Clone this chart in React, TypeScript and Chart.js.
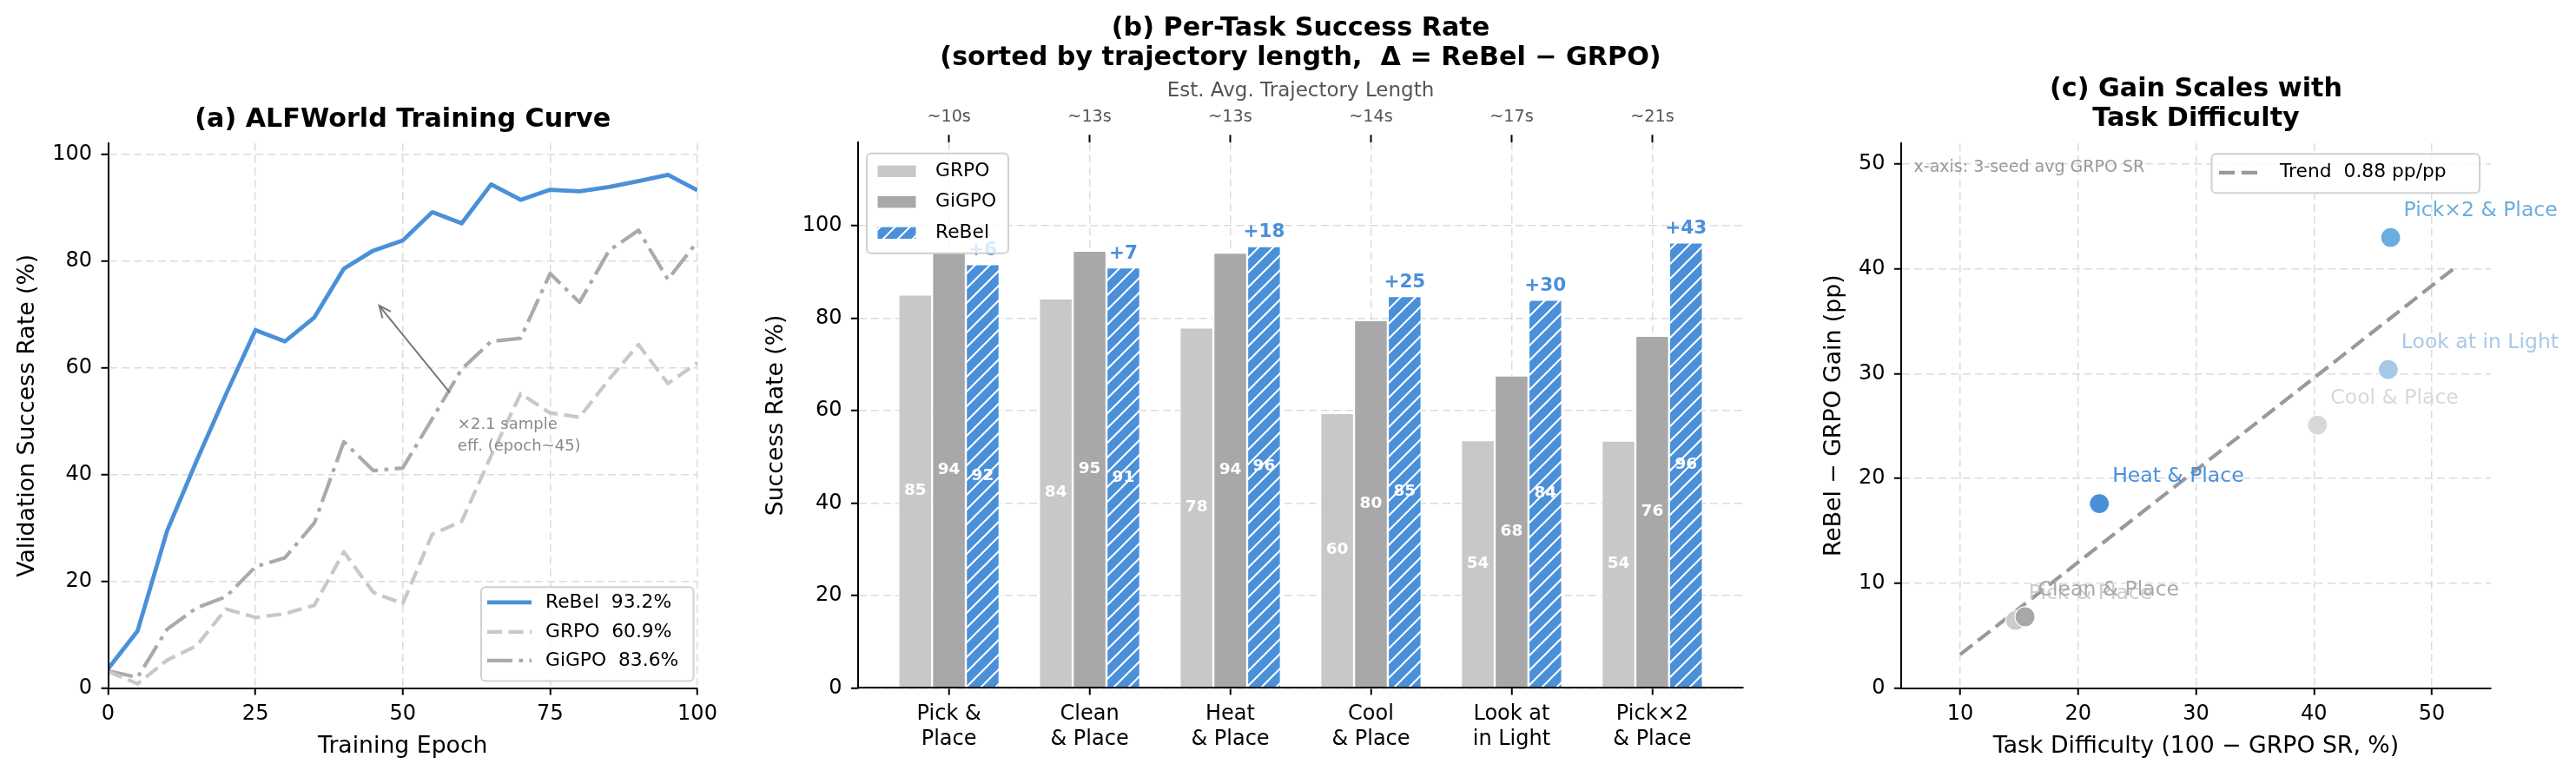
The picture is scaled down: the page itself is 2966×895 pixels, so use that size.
import React, { useEffect, useRef } from "react";
import { Chart, registerables } from "chart.js";

Chart.register(...registerables);

// ---------------- (a) training curve data ----------------
const epochs = [0, 5, 10, 15, 20, 25, 30, 35, 40, 45, 50, 55, 60, 65, 70, 75, 80, 85, 90, 95, 100];
const rebelCurve = [3.6, 10.7, 29.4, 42.5, 55.0, 67.0, 64.9, 69.4, 78.5, 81.9, 83.8, 89.1, 87.0, 94.3, 91.4, 93.3, 93.0, 93.8, 94.9, 96.1, 93.2];
const grpoCurve = [3.1, 0.8, 5.2, 7.9, 14.8, 13.2, 13.9, 15.5, 25.5, 17.9, 15.8, 28.8, 31.2, 43.5, 55.1, 51.5, 50.7, 57.8, 64.3, 57.0, 60.9];
const gigpoCurve = [3.2, 2.0, 11.0, 15.0, 17.1, 22.7, 24.4, 30.9, 46.1, 40.7, 41.2, 50.4, 59.7, 64.9, 65.5, 77.6, 72.2, 81.9, 85.7, 76.5, 83.6];
const curveXTicks = [0, 25, 50, 75, 100];
const curveYTicks = [0, 20, 40, 60, 80, 100];
const annotationText = ["×2.1 sample", "eff. (epoch~45)"];

// ---------------- (b) per-task data ----------------
const tasks = ["Pick &\nPlace", "Clean\n& Place", "Heat\n& Place", "Cool\n& Place", "Look at\nin Light", "Pick×2\n& Place"];
const trajLen = ["~10s", "~13s", "~13s", "~14s", "~17s", "~21s"];
const grpoSR = [85.1, 84.3, 78.0, 59.5, 53.6, 53.5];
const gigpoSR = [94.3, 94.6, 94.2, 79.6, 67.6, 76.2];
const rebelSR = [91.7, 91.0, 95.6, 84.8, 84.0, 96.4];
const barYTicks = [0, 20, 40, 60, 80, 100];

// ---------------- (c) gain vs difficulty data ----------------
const scatterTasks = ["Pick & Place", "Clean & Place", "Heat & Place", "Cool & Place", "Look at in Light", "Pick×2 & Place"];
const difficulty = [14.7, 15.5, 21.8, 40.3, 46.3, 46.5];
const gain = [6.45, 6.8, 17.6, 25.1, 30.4, 43.0];
const trendSlope = 0.88;
const trendIntercept = -5.6;
const trendRange = [10, 52];
const scatterXTicks = [10, 20, 30, 40, 50];
const scatterYTicks = [0, 10, 20, 30, 40, 50];

// ---------------- styles ----------------
const FONT = "'DejaVu Sans', 'Liberation Sans', sans-serif";
const BLUE = "#4a90d9";
const GRPO_C = "#c8c8c8";
const GIGPO_C = "#a8a8a8";
const POINT_COLORS = ["#cccccc", "#a8a8a8", "#4a90d9", "#d8d8d8", "#a8c8e8", "#6aaedd"];
const TICK = 24;
const LABEL = 26.7;
const TITLE = 30.2;
const LEG = 21.8;
const H = 895;

const GRID = { color: "#dcdcdc", lineWidth: 1.5, tickColor: "#000", tickLength: 8, tickWidth: 2, offset: false };
const BORDER = { color: "#000", width: 2, dash: [9, 5], z: 1 };

function zeroPad(s: any) {
  s.paddingLeft = 0;
  s.paddingRight = 0;
  s.paddingTop = 0;
  s.paddingBottom = 0;
}
function fixedTicks(values: number[]) {
  return (s: any) => {
    s.ticks = values.map((v) => ({ value: v }));
  };
}

function yScale(min: number, max: number, ticks: number[], width: number, title: string, titleOffset: number): any {
  return {
    type: "linear",
    position: "left",
    min,
    max,
    afterBuildTicks: fixedTicks(ticks),
    afterFit: (s: any) => {
      s.width = width;
      zeroPad(s);
    },
    ticks: { font: { family: FONT, size: TICK }, color: "#000", padding: 10.5, callback: (v: any) => String(v) },
    grid: GRID,
    border: BORDER,
    title: { display: true, text: title, color: "#000", font: { family: FONT, size: LABEL }, padding: { top: titleOffset, bottom: 0 } },
  };
}

function xScale(min: number, max: number, ticks: number[], height: number, title: string | null, cb?: (v: any) => any, lh?: string, pad = 8.1): any {
  return {
    type: "linear",
    position: "bottom",
    min,
    max,
    offset: false,
    afterBuildTicks: fixedTicks(ticks),
    afterFit: (s: any) => {
      s.height = height;
      zeroPad(s);
    },
    ticks: {
      font: { family: FONT, size: TICK, lineHeight: lh || 1.2 },
      color: "#000",
      padding: pad,
      autoSkip: false,
      maxRotation: 0,
      minRotation: 0,
      callback: cb || ((v: any) => String(v)),
    },
    grid: GRID,
    border: BORDER,
    title: title
      ? { display: true, text: title, color: "#000", font: { family: FONT, size: LABEL }, padding: { top: 0, bottom: 19 } }
      : { display: false },
  };
}

function titleOpts(text: string | string[], top: number, bottom: number): any {
  return {
    display: true,
    text,
    fullSize: false,
    color: "#000",
    font: { family: FONT, size: TITLE, weight: "bold", lineHeight: "34.5px" },
    padding: { top, bottom },
  };
}

function legendFrame(ctx: CanvasRenderingContext2D, x: number, y: number, w: number, h: number) {
  ctx.save();
  ctx.beginPath();
  (ctx as any).roundRect(x, y, w, h, 5);
  ctx.fillStyle = "rgba(255,255,255,0.8)";
  ctx.fill();
  ctx.strokeStyle = "rgba(204,204,204,0.9)";
  ctx.lineWidth = 2;
  ctx.stroke();
  ctx.restore();
}

function makeHatch(): CanvasPattern | string {
  const s = 17;
  const c = document.createElement("canvas");
  c.width = s;
  c.height = s;
  const g = c.getContext("2d");
  if (!g) return BLUE;
  g.fillStyle = BLUE;
  g.fillRect(0, 0, s, s);
  g.strokeStyle = "#ffffff";
  g.lineWidth = 2;
  g.beginPath();
  g.moveTo(-3, s + 3);
  g.lineTo(s + 3, -3);
  g.moveTo(-3, 3);
  g.lineTo(3, -3);
  g.moveTo(s - 3, s + 3);
  g.lineTo(s + 3, s - 3);
  g.stroke();
  return g.createPattern(c, "repeat") || BLUE;
}

// ---------------- (a) ----------------
function buildA(): any {
  const series = [
    { name: "ReBel", values: rebelCurve, color: BLUE, width: 4.8, dash: [] as number[] },
    { name: "GRPO", values: grpoCurve, color: GRPO_C, width: 4.2, dash: [17, 7.5] },
    { name: "GiGPO", values: gigpoCurve, color: "#aaaaaa", width: 4.2, dash: [29, 7.5, 4.6, 7.5] },
  ];
  const datasets = series.map((s) => ({
    label: `${s.name}  ${s.values[s.values.length - 1].toFixed(1)}%`,
    data: epochs.map((e, i) => ({ x: e, y: s.values[i] })),
    borderColor: s.color,
    backgroundColor: s.color,
    borderWidth: s.width,
    borderDash: s.dash,
    borderJoinStyle: "round",
    pointRadius: 0,
    tension: 0,
    fill: false,
  }));
  const overlay = {
    id: "overlayA",
    afterDraw(chart: any) {
      const { ctx, chartArea: ca, scales } = chart;
      const { x, y } = scales;
      const tx = x.getPixelForValue(46), ty = y.getPixelForValue(71.6);
      const sx = x.getPixelForValue(58), sy = y.getPixelForValue(55.3);
      ctx.save();
      ctx.strokeStyle = "#777777";
      ctx.lineWidth = 2;
      ctx.beginPath();
      ctx.moveTo(sx, sy);
      ctx.lineTo(tx, ty);
      ctx.stroke();
      const ang = Math.atan2(ty - sy, tx - sx);
      const L = 15, sp = 0.42;
      ctx.beginPath();
      ctx.moveTo(tx - L * Math.cos(ang - sp), ty - L * Math.sin(ang - sp));
      ctx.lineTo(tx, ty);
      ctx.lineTo(tx - L * Math.cos(ang + sp), ty - L * Math.sin(ang + sp));
      ctx.stroke();
      ctx.fillStyle = "#8a8a8a";
      ctx.font = `18px ${FONT}`;
      ctx.textAlign = "left";
      ctx.textBaseline = "middle";
      const ax = x.getPixelForValue(59.3), ay = y.getPixelForValue(49.2);
      annotationText.forEach((t, i) => ctx.fillText(t, ax, ay + i * 25));
      ctx.restore();
      // legend
      const w = 244.5, h = 108.2;
      const lx = ca.right - 4.5 - w, ly = ca.bottom - 8 - h;
      legendFrame(ctx, lx, ly, w, h);
      const rows = [17.6, 51.6, 84.6];
      chart.data.datasets.forEach((ds: any, i: number) => {
        const ry = ly + rows[i];
        ctx.save();
        ctx.strokeStyle = ds.borderColor;
        ctx.lineWidth = ds.borderWidth;
        ctx.setLineDash(ds.borderDash);
        ctx.beginPath();
        ctx.moveTo(lx + 7, ry);
        ctx.lineTo(lx + 58, ry);
        ctx.stroke();
        ctx.setLineDash([]);
        ctx.fillStyle = "#000";
        ctx.font = `${LEG}px ${FONT}`;
        ctx.textAlign = "left";
        ctx.textBaseline = "middle";
        ctx.fillText(ds.label, lx + 74, ry);
        ctx.restore();
      });
    },
  };
  return {
    type: "line",
    data: { datasets },
    options: {
      animation: false,
      responsive: false,
      devicePixelRatio: 1,
      events: [],
      layout: { padding: { left: 0, top: 0, right: 27, bottom: 0 } },
      plugins: {
        legend: { display: false },
        tooltip: { enabled: false },
        title: titleOpts("(a) ALFWorld Training Curve", 120.75, 9.75),
      },
      scales: {
        x: xScale(0, 100, curveXTicks, 102.5, "Training Epoch"),
        y: yScale(0, 102, curveYTicks, 124.5, "Validation Success Rate (%)", 16.5),
      },
    },
    plugins: [overlay],
  };
}

// ---------------- (b) ----------------
function buildB(): any {
  const hatch = makeHatch();
  const taskLines = tasks.map((t) => t.split("\n"));
  const idx = tasks.map((_, i) => i);
  const XMIN = -0.646, XMAX = 5.646;
  const bar = (label: string, vals: number[], bg: any) => ({
    label,
    data: vals.map((v, i) => ({ x: i, y: v })),
    backgroundColor: bg,
    borderColor: "#ffffff",
    borderWidth: 1.2,
    borderSkipped: "start",
    categoryPercentage: 0.72,
    barPercentage: 1.0,
  });
  const datasets = [bar("GRPO", grpoSR, GRPO_C), bar("GiGPO", gigpoSR, GIGPO_C), bar("ReBel", rebelSR, hatch)];
  const labelsPlugin = {
    id: "labelsB",
    afterDatasetsDraw(chart: any) {
      const { ctx } = chart;
      ctx.save();
      ctx.textAlign = "center";
      ctx.textBaseline = "middle";
      chart.data.datasets.forEach((ds: any, di: number) => {
        const meta = chart.getDatasetMeta(di);
        meta.data.forEach((el: any, j: number) => {
          const v = ds.data[j].y;
          ctx.fillStyle = "#ffffff";
          ctx.font = `bold 18.5px ${FONT}`;
          ctx.fillText(String(Math.round(v)), el.x, (el.y + el.base) / 2);
          if (di === 2) {
            ctx.fillStyle = BLUE;
            ctx.font = `bold 21.5px ${FONT}`;
            ctx.fillText(`+${Math.round(gain[j])}`, el.x, el.y - 16);
          }
        });
      });
      ctx.restore();
    },
    afterDraw(chart: any) {
      const { ctx, chartArea: ca } = chart;
      const lx = ca.left + 10, ly = ca.top + 12.4, w = 163, h = 115;
      legendFrame(ctx, lx, ly, w, h);
      const rows = [20.6, 56, 91.6];
      chart.data.datasets.forEach((ds: any, i: number) => {
        const ry = ly + rows[i];
        ctx.save();
        ctx.fillStyle = ds.backgroundColor;
        ctx.fillRect(lx + 12, ry - 7.2, 45, 14.4);
        ctx.strokeStyle = "#ffffff";
        ctx.lineWidth = 1;
        ctx.strokeRect(lx + 12, ry - 7.2, 45, 14.4);
        ctx.fillStyle = "#000";
        ctx.font = `${LEG}px ${FONT}`;
        ctx.textAlign = "left";
        ctx.textBaseline = "middle";
        ctx.fillText(ds.label, lx + 79, ry);
        ctx.restore();
      });
    },
  };
  return {
    type: "bar",
    data: { datasets },
    options: {
      animation: false,
      responsive: false,
      devicePixelRatio: 1,
      events: [],
      layout: { padding: { left: 0, top: 0, right: 43, bottom: 0 } },
      plugins: {
        legend: { display: false },
        tooltip: { enabled: false },
        title: titleOpts(["(b) Per-Task Success Rate", "(sorted by trajectory length,  Δ = ReBel − GRPO)"], 15.75, 1.25),
      },
      scales: {
        x: xScale(XMIN, XMAX, idx, 102.6, null, (v: any) => taskLines[v], "29px", 8.1),
        xTop: {
          type: "linear",
          position: "top",
          axis: "x",
          min: XMIN,
          max: XMAX,
          offset: false,
          afterBuildTicks: fixedTicks(idx),
          afterFit: (s: any) => {
            s.height = 78.3;
            zeroPad(s);
          },
          ticks: {
            font: { family: FONT, size: 19.2 },
            color: "#555555",
            padding: 8.8,
            autoSkip: false,
            maxRotation: 0,
            minRotation: 0,
            callback: (v: any) => trajLen[v],
          },
          grid: { display: true, drawOnChartArea: false, drawTicks: true, tickColor: "#000", tickLength: 9, tickWidth: 2, offset: false, color: "#dcdcdc" },
          border: { display: false },
          title: { display: true, text: "Est. Avg. Trajectory Length", color: "#555555", font: { family: FONT, size: 23 }, padding: { top: 5.2, bottom: 0 } },
        },
        y: yScale(0, 118, barYTicks, 138, "Success Rate (%)", 28),
      },
    },
    plugins: [labelsPlugin],
  };
}

// ---------------- (c) ----------------
function buildC(): any {
  const trend = {
    type: "line",
    label: `Trend  ${trendSlope.toFixed(2)} pp/pp`,
    data: trendRange.map((x) => ({ x, y: trendSlope * x + trendIntercept })),
    borderColor: "#999999",
    backgroundColor: "#999999",
    borderWidth: 4.2,
    borderDash: [18, 8],
    pointRadius: 0,
    showLine: true,
    fill: false,
    order: 2,
  };
  const pts = {
    type: "scatter",
    label: "tasks",
    data: difficulty.map((d, i) => ({ x: d, y: gain[i] })),
    pointBackgroundColor: POINT_COLORS,
    backgroundColor: POINT_COLORS,
    pointBorderColor: "#ffffff",
    borderColor: "#ffffff",
    pointBorderWidth: 1.2,
    pointRadius: 11.5,
    order: 1,
  };
  const overlay = {
    id: "overlayC",
    afterDatasetsDraw(chart: any) {
      const { ctx } = chart;
      const meta = chart.getDatasetMeta(1);
      ctx.save();
      ctx.font = `23.5px ${FONT}`;
      ctx.textAlign = "left";
      ctx.textBaseline = "middle";
      meta.data.forEach((el: any, i: number) => {
        ctx.fillStyle = POINT_COLORS[i];
        ctx.fillText(scatterTasks[i], el.x + 15, el.y - 31);
      });
      ctx.restore();
    },
    afterDraw(chart: any) {
      const { ctx, chartArea: ca } = chart;
      ctx.save();
      ctx.fillStyle = "#999999";
      ctx.font = `19px ${FONT}`;
      ctx.textAlign = "left";
      ctx.textBaseline = "middle";
      ctx.fillText("x-axis: 3-seed avg GRPO SR", ca.left + 14.6, ca.top + 27.7);
      ctx.restore();
      const w = 308.5, h = 45;
      const lx = ca.right - 13 - w, ly = ca.top + 12.3;
      legendFrame(ctx, lx, ly, w, h);
      const ds = chart.data.datasets[0];
      const ry = ly + 21.5;
      ctx.save();
      ctx.strokeStyle = ds.borderColor;
      ctx.lineWidth = ds.borderWidth;
      ctx.setLineDash(ds.borderDash);
      ctx.beginPath();
      ctx.moveTo(lx + 8.5, ry);
      ctx.lineTo(lx + 58.5, ry);
      ctx.stroke();
      ctx.setLineDash([]);
      ctx.fillStyle = "#000";
      ctx.font = `${LEG}px ${FONT}`;
      ctx.textAlign = "left";
      ctx.textBaseline = "middle";
      ctx.fillText(ds.label, lx + 78.5, ry);
      ctx.restore();
    },
  };
  return {
    type: "scatter",
    data: { datasets: [trend, pts] },
    options: {
      animation: false,
      responsive: false,
      devicePixelRatio: 1,
      events: [],
      layout: { padding: { left: 0, top: 0, right: 98, bottom: 0 } },
      plugins: {
        legend: { display: false },
        tooltip: { enabled: false },
        title: titleOpts(["(c) Gain Scales with", "Task Difficulty"], 85.75, 10.25),
      },
      scales: {
        x: xScale(5, 55, scatterXTicks, 102.5, "Task Difficulty (100 − GRPO SR, %)"),
        y: yScale(0, 52, scatterYTicks, 139, "ReBel − GRPO Gain (pp)", 46.5),
      },
    },
    plugins: [overlay],
  };
}

function Panel({ left, width, build }: { left: number; width: number; build: () => any }) {
  const ref = useRef<HTMLCanvasElement | null>(null);
  useEffect(() => {
    if (!ref.current) return;
    const chart = new Chart(ref.current, build());
    return () => chart.destroy();
  }, []);
  return (
    <canvas
      ref={ref}
      width={width}
      height={H}
      style={{ position: "absolute", left, top: 0, width, height: H }}
    />
  );
}

export default function App() {
  return (
    <div style={{ position: "absolute", left: 0, top: 0, width: 2966, height: H, background: "#ffffff", overflow: "hidden" }}>
      <Panel left={0} width={830} build={buildA} />
      <Panel left={850} width={1200} build={buildB} />
      <Panel left={2050} width={916} build={buildC} />
    </div>
  );
}
